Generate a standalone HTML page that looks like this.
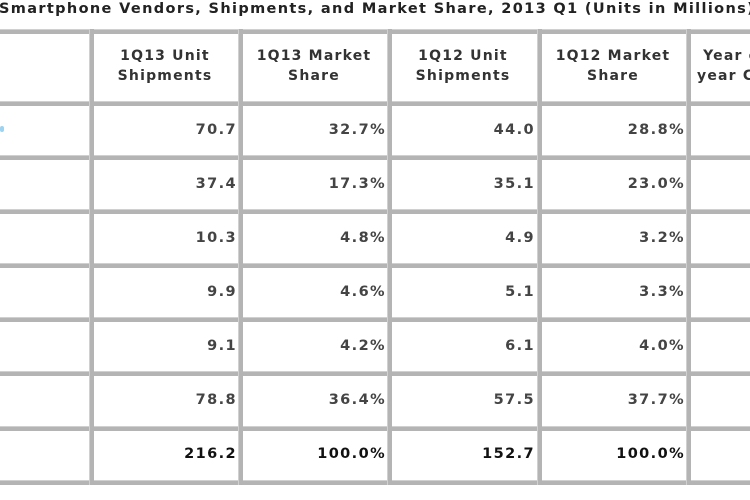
<!DOCTYPE html>
<html><head><meta charset="utf-8"><style>
html,body{margin:0;padding:0}
#w{width:750px;height:500px;overflow:hidden;background:#fff;position:relative;font-family:"DejaVu Sans",Verdana,sans-serif;}
.h{position:absolute;left:0;width:750px;height:5px;background:#b4b4b4;border-top:1px solid #d0d0d0;box-sizing:border-box}
.v{position:absolute;top:29px;height:456px;width:5px;background:#b4b4b4;border-left:1px solid #d0d0d0;box-sizing:border-box}
.c{position:absolute;font-size:14.5px;letter-spacing:1.4px;font-weight:bold;color:#444;text-align:right;width:143px;line-height:16px}
.t{color:#111}
.hd{position:absolute;font-size:14px;letter-spacing:1.2px;font-weight:bold;color:#333;text-align:center;width:140px;line-height:20px}
.title{position:absolute;left:-1px;top:1px;font-size:14.5px;letter-spacing:1.35px;font-weight:bold;color:#222;white-space:nowrap}
</style></head><body><div id="w">
<div class="title">Smartphone Vendors, Shipments, and Market Share, 2013 Q1 (Units in Millions)</div>
<div class="h" style="top:29px"></div>
<div class="h" style="top:101px"></div>
<div class="h" style="top:155px"></div>
<div class="h" style="top:209px"></div>
<div class="h" style="top:263px"></div>
<div class="h" style="top:317px"></div>
<div class="h" style="top:371px"></div>
<div class="h" style="top:426px"></div>
<div class="h" style="top:480px"></div>
<div class="v" style="left:89px"></div>
<div class="v" style="left:238px"></div>
<div class="v" style="left:387px"></div>
<div class="v" style="left:537px"></div>
<div class="v" style="left:686px"></div>
<div class="hd" style="left:95px;top:46px">1Q13 Unit<br>Shipments</div>
<div class="hd" style="left:244px;top:46px">1Q13 Market<br>Share</div>
<div class="hd" style="left:393px;top:46px">1Q12 Unit<br>Shipments</div>
<div class="hd" style="left:543px;top:46px">1Q12 Market<br>Share</div>
<div class="hd" style="left:697px;top:46px;text-align:left;white-space:nowrap">&nbsp;Year over<br>year Change</div>
<div style="position:absolute;left:0;top:126px;width:4px;height:6px;background:#9cd3f0;border-radius:2px"></div>
<div class="c" style="left:94px;top:122px">70.7</div><div class="c" style="left:243px;top:122px">32.7%</div><div class="c" style="left:392px;top:122px">44.0</div><div class="c" style="left:542px;top:122px">28.8%</div>
<div class="c" style="left:94px;top:176px">37.4</div><div class="c" style="left:243px;top:176px">17.3%</div><div class="c" style="left:392px;top:176px">35.1</div><div class="c" style="left:542px;top:176px">23.0%</div>
<div class="c" style="left:94px;top:230px">10.3</div><div class="c" style="left:243px;top:230px">4.8%</div><div class="c" style="left:392px;top:230px">4.9</div><div class="c" style="left:542px;top:230px">3.2%</div>
<div class="c" style="left:94px;top:284px">9.9</div><div class="c" style="left:243px;top:284px">4.6%</div><div class="c" style="left:392px;top:284px">5.1</div><div class="c" style="left:542px;top:284px">3.3%</div>
<div class="c" style="left:94px;top:338px">9.1</div><div class="c" style="left:243px;top:338px">4.2%</div><div class="c" style="left:392px;top:338px">6.1</div><div class="c" style="left:542px;top:338px">4.0%</div>
<div class="c" style="left:94px;top:392px">78.8</div><div class="c" style="left:243px;top:392px">36.4%</div><div class="c" style="left:392px;top:392px">57.5</div><div class="c" style="left:542px;top:392px">37.7%</div>
<div class="c t" style="left:94px;top:446px">216.2</div><div class="c t" style="left:243px;top:446px">100.0%</div><div class="c t" style="left:392px;top:446px">152.7</div><div class="c t" style="left:542px;top:446px">100.0%</div>
</div></body></html>
